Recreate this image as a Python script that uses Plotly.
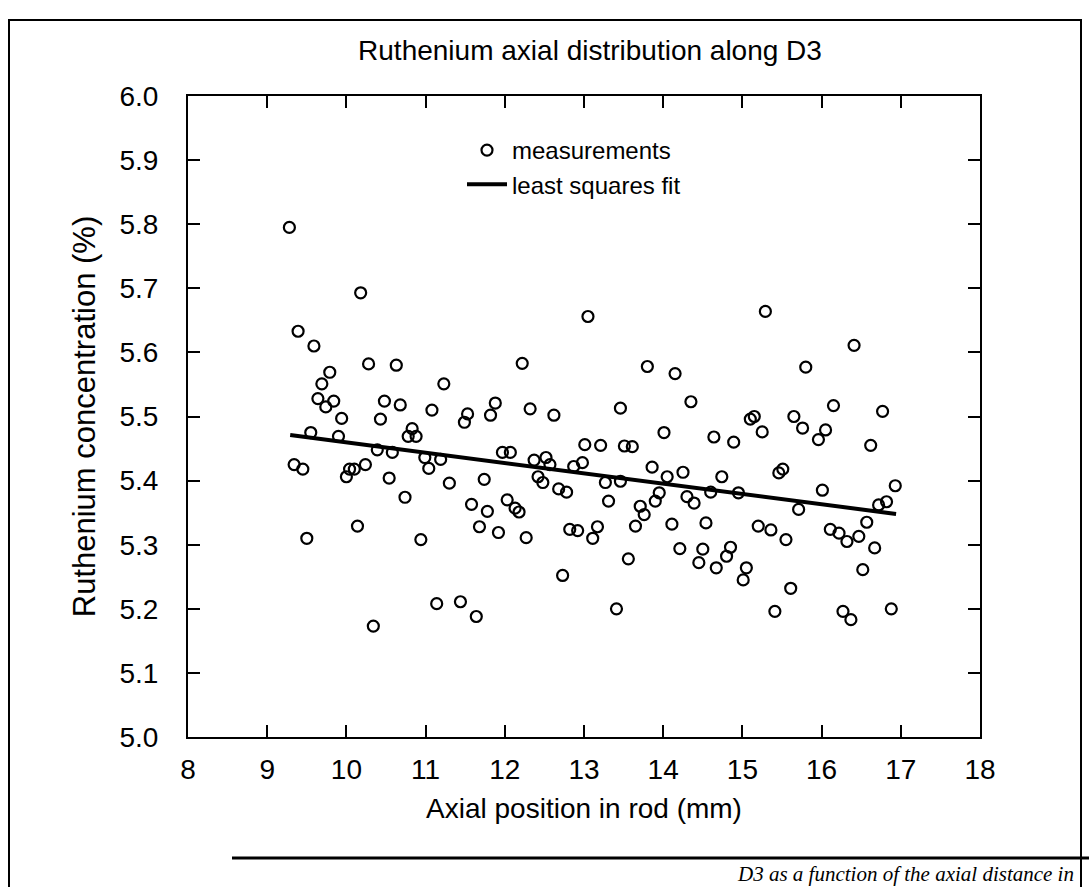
import plotly.graph_objects as go

# Measurements (axial position in mm, Ru concentration in %)
pos_mm = [9.28, 10.18, 9.39, 9.59, 10.28, 10.63, 9.79, 9.69, 11.23, 9.64,
          9.84, 9.74, 10.48, 10.68, 11.08, 9.94, 10.43, 10.83, 10.78, 10.88,
          9.55, 9.90, 10.39, 10.58, 10.99, 11.19, 11.04, 9.34, 9.45, 10.24,
          10.04, 10.10, 10.00, 10.54, 11.30, 10.74, 10.14, 9.50, 10.94, 11.14,
          10.34, 13.05, 12.22, 13.80, 14.15, 14.35, 11.88, 11.53, 11.49, 11.82,
          12.32, 12.62, 13.46, 14.01, 14.64, 13.01, 13.21, 13.51, 13.61, 11.97,
          12.07, 12.37, 12.52, 12.57, 12.87, 12.98, 13.86, 14.25, 14.05, 11.74,
          12.42, 12.48, 12.68, 13.27, 13.46, 13.95, 12.78, 13.31, 13.90, 14.30,
          14.39, 14.60, 13.71, 13.76, 11.58, 12.03, 12.13, 12.18, 11.78, 11.68,
          11.92, 12.27, 12.82, 12.92, 13.17, 13.11, 13.65, 14.11, 14.54, 14.21,
          14.50, 14.45, 14.67, 13.56, 12.73, 11.44, 11.64, 13.41, 15.29, 16.41,
          15.80, 16.15, 16.77, 15.10, 15.15, 15.65, 15.76, 16.05, 15.25, 14.89,
          15.96, 16.62, 14.74, 15.46, 15.51, 16.01, 16.93, 14.95, 15.71, 16.72,
          16.82, 16.57, 15.20, 15.36, 16.11, 16.22, 16.32, 16.47, 15.55, 16.67,
          14.85, 14.80, 15.05, 15.01, 16.52, 15.61, 15.41, 16.27, 16.37, 16.88]

ru_pct = [5.795, 5.693, 5.633, 5.610, 5.582, 5.580, 5.569, 5.551, 5.551, 5.528,
          5.524, 5.515, 5.524, 5.518, 5.510, 5.497, 5.496, 5.481, 5.469, 5.469,
          5.475, 5.469, 5.448, 5.444, 5.436, 5.433, 5.419, 5.425, 5.418, 5.425,
          5.418, 5.418, 5.406, 5.404, 5.396, 5.374, 5.329, 5.310, 5.308, 5.208,
          5.173, 5.656, 5.583, 5.578, 5.567, 5.523, 5.521, 5.504, 5.491, 5.502,
          5.512, 5.502, 5.513, 5.475, 5.468, 5.456, 5.455, 5.454, 5.453, 5.444,
          5.444, 5.432, 5.436, 5.425, 5.422, 5.428, 5.421, 5.413, 5.406, 5.402,
          5.406, 5.397, 5.387, 5.397, 5.399, 5.381, 5.382, 5.368, 5.368, 5.375,
          5.365, 5.382, 5.360, 5.347, 5.363, 5.370, 5.357, 5.351, 5.352, 5.328,
          5.319, 5.311, 5.324, 5.322, 5.328, 5.310, 5.329, 5.332, 5.334, 5.294,
          5.293, 5.272, 5.264, 5.278, 5.252, 5.211, 5.188, 5.200, 5.664, 5.611,
          5.577, 5.517, 5.508, 5.496, 5.500, 5.500, 5.482, 5.479, 5.476, 5.460,
          5.464, 5.455, 5.406, 5.412, 5.418, 5.385, 5.392, 5.381, 5.355, 5.362,
          5.367, 5.335, 5.329, 5.323, 5.324, 5.318, 5.305, 5.313, 5.308, 5.295,
          5.296, 5.282, 5.264, 5.245, 5.261, 5.232, 5.196, 5.196, 5.183, 5.200]

# Least squares fit line end points
fit_x = [9.29, 16.94]
fit_y = [5.471, 5.348]

x_ticks = [8, 9, 10, 11, 12, 13, 14, 15, 16, 17, 18]
y_ticks = [5.0, 5.1, 5.2, 5.3, 5.4, 5.5, 5.6, 5.7, 5.8, 5.9, 6.0]

FONT = "Liberation Sans"
W, H = 1089, 887
L, R, T, B = 188, 109, 96, 150
PW, PH = W - L - R, H - T - B


def px(x):
    return (x - L) / PW


def py(y):
    return (H - B - y) / PH


fig = go.Figure()
fig.add_trace(go.Scatter(
    x=pos_mm, y=ru_pct, mode="markers", name="measurements",
    marker=dict(symbol="circle-open", size=11, color="black",
                line=dict(width=2.2, color="black")),
))
fig.add_trace(go.Scatter(
    x=fit_x, y=fit_y, mode="lines", name="least squares fit",
    line=dict(color="black", width=4),
))

axis_common = dict(
    showline=True, linecolor="black", linewidth=2, mirror="ticks",
    ticks="inside", ticklen=12, tickwidth=2, tickcolor="black",
    showgrid=False, zeroline=False,
    tickfont=dict(family=FONT, size=28, color="black"),
)

fig.update_xaxes(
    range=[8, 18], tickvals=x_ticks, ticktext=[str(v) for v in x_ticks],
    title=dict(text="Axial position in rod (mm)",
               font=dict(family=FONT, size=28, color="black")),
    ticklabelstandoff=6,
    **axis_common,
)
fig.update_yaxes(
    range=[5.0, 6.0], tickvals=y_ticks, ticktext=[f"{v:.1f}" for v in y_ticks],
    title=dict(text="Ruthenium concentration (%)",
               font=dict(family=FONT, size=31, color="black")),
    ticklabelstandoff=22,
    **axis_common,
)

shapes = [
    # page frame around the figure
    dict(type="path", xref="paper", yref="paper",
         path=f"M {px(9)},{py(910)} L {px(9)},{py(20)} L {px(1081)},{py(20)} L {px(1081)},{py(910)}",
         line=dict(color="black", width=2)),
    # caption rule
    dict(type="line", xref="paper", yref="paper",
         x0=px(232), x1=px(1100), y0=py(858), y1=py(858),
         line=dict(color="black", width=3)),
]

annotations = [
    dict(text="<i>D3 as a function of the axial distance in</i>",
         xref="paper", yref="paper", x=px(1076), y=py(860),
         xanchor="right", yanchor="top", showarrow=False,
         font=dict(family="Liberation Serif", size=21, color="black")),
]

fig.update_layout(
    width=W, height=H,
    margin=dict(l=L, r=R, t=T, b=B, autoexpand=False),
    paper_bgcolor="white", plot_bgcolor="white",
    title=dict(text="Ruthenium axial distribution along D3",
               x=590 / W, xanchor="center", y=1 - 50 / H, yanchor="middle",
               font=dict(family=FONT, size=28, color="black")),
    showlegend=True,
    legend=dict(x=px(462), y=py(128), xanchor="left", yanchor="top",
                bgcolor="rgba(0,0,0,0)", borderwidth=0, itemwidth=40,
                font=dict(family=FONT, size=24, color="black"),
                tracegroupgap=0),
    shapes=shapes, annotations=annotations,
)

fig.write_html("out.html")
